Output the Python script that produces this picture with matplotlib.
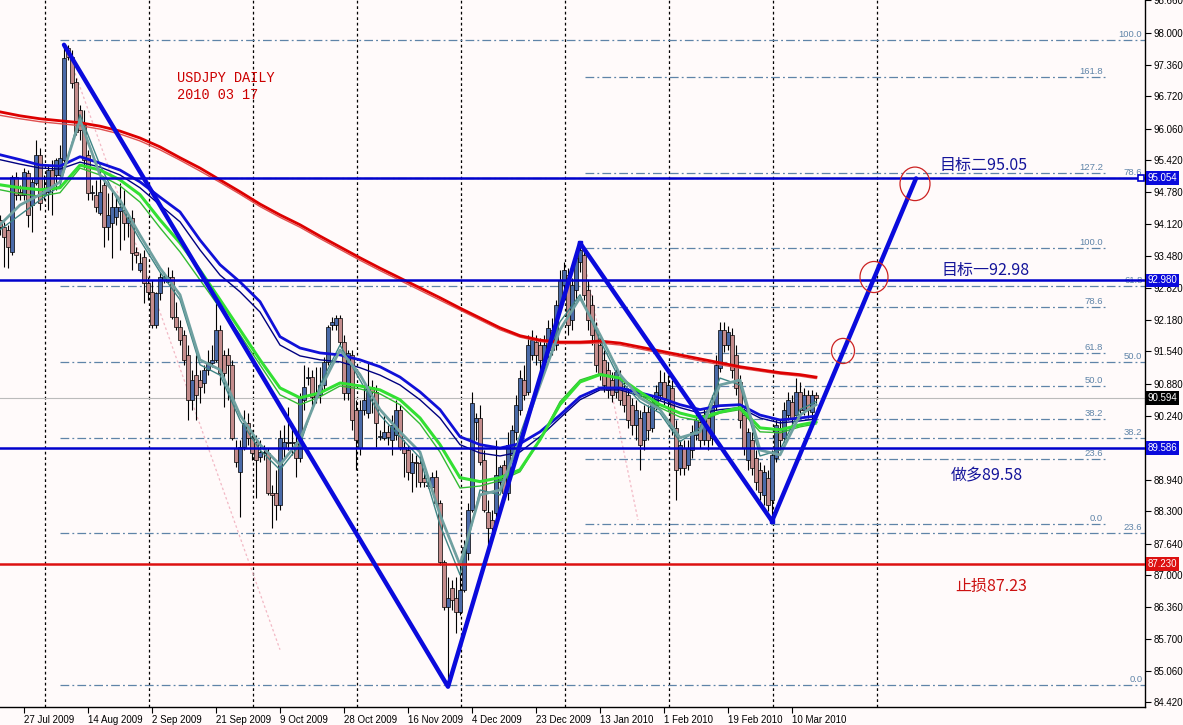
import numpy as np
import matplotlib
matplotlib.use("Agg")
import matplotlib.pyplot as plt
from matplotlib.patches import Ellipse

# ---------------- data ----------------
first_bar = -6  # index of first visible daily bar (bar 0 = 27 Jul 2009)

opens = [94.21, 94.07, 94.01, 93.56, 95.08, 94.78, 94.72, 95.16, 94.51, 94.96, 95.53, 94.72, 94.78, 95.22, 95.12, 95.12,
         95.43, 97.70, 97.51, 97.01, 96.44, 96.14, 95.53, 94.76, 94.72, 94.35, 94.92, 94.07, 94.15, 94.27, 94.39, 94.41, 94.15, 94.25, 93.56, 93.19,
         93.46, 92.93, 92.75, 92.08, 92.73, 92.99, 92.95, 93.05, 92.24, 92.04, 91.88, 91.47, 90.56, 91.07, 90.96, 90.90, 91.17, 91.31, 91.37, 91.98,
         91.47, 91.47, 91.27, 89.58, 89.10, 89.60, 90.09, 89.79, 89.71, 89.40, 89.48, 89.48, 88.67, 88.67, 88.43, 89.58, 89.69, 89.69, 89.71, 89.38,
         90.56, 91.00, 91.02, 90.66, 90.66, 90.86, 91.33, 92.08, 92.08, 92.22, 91.73, 90.70, 91.47, 90.36, 89.58, 90.36, 90.29, 90.82, 90.72, 89.81,
         89.79, 89.91, 89.75, 89.85, 90.36, 89.60, 89.54, 89.08, 89.30, 89.28, 88.98, 88.81, 88.79, 89.00, 88.47, 87.27, 86.36, 86.75, 86.54, 86.26,
         86.70, 87.46, 88.33, 90.11, 90.19, 89.34, 88.29, 88.12, 88.27, 88.90, 89.24, 88.67, 89.44, 89.91, 90.36, 90.96, 90.72, 91.47, 91.73, 91.67,
         91.33, 91.57, 91.98, 91.67, 92.49, 92.89, 93.09, 92.18, 92.79, 93.36, 93.50, 92.79, 92.49, 91.98, 91.67, 91.37, 91.17, 90.96, 90.72, 91.00,
         90.80, 90.66, 90.46, 90.05, 90.19, 89.75, 90.31, 89.99, 90.46, 90.66, 90.92, 90.56, 90.80, 89.99, 89.18, 89.58, 89.24, 89.54, 89.85, 90.11,
         89.75, 90.19, 89.79, 90.46, 91.21, 91.98, 91.67, 91.88, 91.47, 90.92, 90.25, 89.34, 89.75, 89.38, 89.14, 88.63, 88.98, 88.53, 89.38, 89.99,
         89.79, 90.25, 90.52, 90.25, 90.72, 90.36, 90.66, 90.31, 90.66]
highs = [94.31, 94.17, 94.11, 95.12, 95.18, 94.92, 95.26, 95.22, 95.06, 95.83, 95.67, 95.12, 95.32, 95.43, 95.47, 95.73,
         97.76, 97.76, 97.66, 97.09, 96.54, 96.44, 95.63, 94.92, 95.02, 95.22, 95.02, 94.76, 94.82, 94.65, 94.96, 94.82, 94.31, 94.41, 93.66, 93.54,
         93.60, 93.05, 92.99, 92.75, 93.15, 93.15, 93.26, 93.19, 92.55, 92.18, 91.98, 91.67, 91.17, 91.47, 91.17, 91.27, 91.57, 91.67, 92.52, 92.08,
         91.57, 91.61, 91.37, 89.75, 89.75, 90.36, 90.29, 89.95, 89.85, 89.75, 89.65, 89.58, 88.83, 89.14, 89.95, 90.05, 90.42, 90.09, 89.95, 90.70,
         91.27, 91.23, 91.17, 91.23, 91.23, 91.42, 92.08, 92.24, 92.28, 92.28, 91.88, 91.57, 91.57, 90.56, 90.56, 90.86, 91.31, 90.96, 90.86, 89.95,
         90.25, 90.05, 90.25, 90.56, 90.46, 89.75, 89.65, 89.48, 89.44, 89.44, 89.08, 88.92, 89.10, 89.14, 88.53, 87.31, 86.97, 86.91, 86.97, 87.21,
         87.72, 88.47, 90.72, 90.29, 90.46, 89.54, 88.53, 88.33, 89.75, 89.24, 89.34, 89.91, 90.05, 90.66, 91.17, 91.27, 91.88, 91.98, 91.88, 91.81,
         91.88, 92.18, 92.22, 92.59, 93.19, 93.36, 93.23, 93.03, 93.56, 93.74, 93.64, 92.99, 92.69, 92.14, 91.81, 91.57, 91.33, 91.13, 91.27, 91.17,
         90.96, 90.80, 90.60, 90.56, 90.36, 90.46, 90.46, 90.66, 90.86, 91.17, 91.13, 91.07, 90.96, 90.15, 89.75, 89.75, 89.75, 90.05, 90.36, 90.25,
         90.40, 90.36, 90.66, 91.47, 92.14, 92.14, 92.06, 92.02, 91.67, 91.07, 90.40, 89.99, 89.91, 89.54, 89.30, 89.24, 89.14, 89.54, 90.19, 90.15,
         90.52, 90.72, 90.66, 91.00, 90.92, 90.80, 90.76, 90.76, 90.72]
lows = [93.90, 93.26, 93.23, 93.50, 94.61, 94.61, 94.61, 94.07, 93.97, 94.92, 94.41, 94.61, 94.41, 94.31, 94.82, 95.02,
        95.38, 97.45, 96.89, 95.93, 95.83, 95.26, 94.61, 94.61, 94.37, 94.31, 93.66, 93.80, 93.44, 94.11, 93.60, 93.80, 93.86, 93.19, 93.34, 93.15,
        92.52, 92.59, 92.02, 92.02, 92.59, 92.93, 92.93, 92.20, 91.98, 91.67, 91.27, 90.15, 90.36, 90.15, 90.50, 90.70, 91.07, 91.23, 91.33, 90.86,
        90.42, 90.56, 89.75, 89.20, 88.19, 89.54, 89.65, 89.34, 88.57, 89.30, 89.34, 88.63, 87.96, 88.12, 88.33, 89.34, 89.54, 89.44, 89.00, 89.30,
        90.36, 90.86, 90.36, 90.50, 90.50, 90.76, 91.27, 91.98, 91.98, 91.67, 90.56, 90.56, 89.95, 89.14, 89.44, 90.25, 90.19, 90.29, 89.60, 89.75,
        89.75, 89.65, 89.44, 89.75, 89.54, 89.00, 88.94, 88.69, 88.79, 88.79, 88.79, 88.77, 88.73, 88.43, 87.21, 86.30, 84.74, 86.30, 85.83, 86.20,
        86.66, 87.31, 88.29, 89.75, 89.24, 88.29, 87.58, 87.82, 88.12, 88.73, 88.53, 88.53, 89.34, 89.75, 90.25, 90.56, 90.66, 91.37, 91.27, 91.17,
        91.21, 91.41, 91.47, 91.57, 92.34, 92.59, 91.88, 91.98, 92.59, 93.15, 92.59, 91.98, 91.67, 91.13, 90.96, 90.72, 90.60, 90.52, 90.60, 90.46,
        90.31, 89.99, 89.85, 89.75, 89.14, 89.54, 89.75, 89.91, 90.36, 90.56, 90.46, 90.36, 89.85, 88.53, 89.04, 89.04, 89.14, 89.38, 89.75, 89.58,
        89.65, 89.54, 89.65, 90.36, 91.13, 91.53, 91.57, 91.00, 90.66, 89.99, 89.44, 89.14, 89.04, 88.73, 88.53, 88.43, 88.30, 88.10, 89.30, 89.54,
        89.71, 90.15, 90.05, 90.15, 90.19, 90.25, 90.19, 90.05, 90.46]
closes = [94.07, 93.86, 93.66, 95.08, 94.72, 94.72, 95.18, 94.31, 94.98, 95.53, 94.55, 94.78, 95.22, 94.88, 95.43, 95.47,
          97.49, 97.51, 96.99, 95.99, 96.03, 95.43, 94.76, 94.78, 94.47, 94.78, 94.07, 94.31, 94.47, 94.47, 94.47, 94.15, 94.25, 93.54, 93.50, 93.34,
          92.93, 92.75, 92.08, 92.73, 93.05, 93.05, 93.05, 92.24, 92.04, 91.77, 91.37, 90.56, 90.96, 90.66, 90.82, 91.17, 91.33, 91.37, 91.98, 91.11,
          91.11, 91.27, 89.79, 89.30, 89.60, 90.09, 89.79, 89.48, 89.34, 89.50, 89.50, 88.67, 88.63, 88.43, 89.79, 89.71, 89.71, 89.71, 89.38, 90.62,
          90.82, 91.02, 90.62, 90.62, 90.86, 91.33, 92.04, 92.14, 92.22, 91.73, 90.70, 91.51, 90.15, 89.75, 90.36, 90.56, 90.82, 90.72, 90.09, 89.83,
          89.91, 89.81, 90.05, 90.36, 89.60, 89.48, 89.10, 89.30, 89.28, 88.90, 88.90, 88.83, 89.00, 88.47, 87.27, 86.36, 86.54, 86.50, 86.26, 86.70,
          87.58, 88.33, 90.50, 90.19, 89.30, 88.33, 87.96, 87.96, 89.04, 89.20, 88.67, 89.65, 89.95, 90.46, 91.00, 90.66, 91.67, 91.77, 91.47, 91.37,
          91.67, 92.02, 91.57, 92.49, 92.99, 93.19, 92.08, 92.89, 93.44, 93.60, 92.69, 92.18, 91.88, 91.27, 91.07, 90.86, 90.76, 90.66, 91.13, 90.56,
          90.46, 90.15, 90.05, 90.36, 89.65, 90.31, 89.95, 90.52, 90.72, 90.92, 90.60, 90.86, 89.99, 89.14, 89.65, 89.18, 89.58, 89.91, 90.15, 89.75,
          90.25, 89.75, 90.46, 91.27, 91.98, 91.67, 91.94, 91.17, 90.80, 90.15, 89.58, 89.91, 89.18, 88.90, 88.69, 89.10, 88.43, 89.44, 90.05, 89.75,
          90.36, 90.56, 90.19, 90.72, 90.36, 90.66, 90.36, 90.66, 90.59]

# moving averages read at sample bars
ma_bars = [-6, -1, 4, 9, 14, 19, 24, 29, 34, 39, 44, 49, 54, 59, 64, 69, 74, 79, 84, 89, 94,
           99, 104, 109, 114, 119, 124, 129, 134, 139, 144, 149, 154, 159, 164, 169, 174, 179, 184, 189, 194, 198]
ma_red = [96.40, 96.32, 96.26, 96.22, 96.18, 96.11, 96.01, 95.87, 95.69, 95.47, 95.26, 95.02, 94.78, 94.53, 94.31, 94.11,
          93.88, 93.66, 93.44, 93.23, 93.03, 92.83, 92.63, 92.42, 92.22, 92.02, 91.86, 91.77, 91.73, 91.73, 91.75, 91.71,
          91.63, 91.55, 91.47, 91.39, 91.31, 91.23, 91.17, 91.11, 91.07, 91.02]
ma_red_thin = [96.33, 96.26, 96.20, 96.16, 96.12, 96.05, 95.95, 95.81, 95.63, 95.42, 95.20, 94.97, 94.73, 94.48, 94.26, 94.06,
               93.83, 93.61, 93.39, 93.18, 92.98, 92.78, 92.58, 92.38, 92.18, 91.98, 91.83, 91.74, 91.70, 91.70, 91.71, 91.67,
               91.59, 91.51, 91.43, 91.35, 91.27, 91.20, 91.14, 91.08, 91.04, 90.99]
ma_blue = [95.53, 95.43, 95.32, 95.30, 95.49, 95.36, 95.22, 94.98, 94.67, 94.37, 93.80, 93.30, 92.95, 92.55, 91.84, 91.61,
           91.51, 91.47, 91.37, 91.23, 91.02, 90.72, 90.36, 89.81, 89.65, 89.58, 89.67, 89.91, 90.25, 90.62, 90.80, 90.80,
           90.70, 90.60, 90.46, 90.36, 90.44, 90.46, 90.25, 90.15, 90.19, 90.23]
ma_blue_thin = [95.43, 95.34, 95.26, 95.24, 95.38, 95.28, 95.12, 94.86, 94.51, 94.17, 93.60, 93.09, 92.75, 92.34, 91.67, 91.45,
                91.37, 91.33, 91.21, 91.06, 90.86, 90.56, 90.19, 89.65, 89.48, 89.42, 89.50, 89.81, 90.19, 90.56, 90.76, 90.76,
                90.64, 90.54, 90.40, 90.29, 90.36, 90.40, 90.19, 90.09, 90.13, 90.17]
ma_green = [94.92, 94.86, 94.82, 94.86, 95.32, 95.22, 95.02, 94.72, 94.21, 93.74, 93.19, 92.59, 91.98, 91.37, 90.80, 90.60,
            90.70, 90.90, 90.84, 90.76, 90.56, 90.19, 89.65, 88.98, 88.90, 88.98, 89.14, 89.75, 90.46, 90.92, 91.07, 91.00,
            90.72, 90.46, 90.29, 90.19, 90.31, 90.40, 89.99, 89.95, 90.05, 90.11]
ma_green_thin = [94.82, 94.74, 94.69, 94.76, 95.26, 95.12, 94.90, 94.57, 94.05, 93.56, 92.99, 92.42, 91.88, 91.27, 90.66, 90.46,
                 90.62, 90.84, 90.78, 90.68, 90.46, 90.07, 89.50, 88.77, 88.81, 88.92, 89.10, 89.75, 90.52, 90.96, 91.09, 91.00,
                 90.66, 90.40, 90.21, 90.13, 90.29, 90.36, 89.91, 89.89, 90.01, 90.07]
ma_gray = [94.11, 94.51, 94.72, 94.98, 96.24, 95.12, 94.61, 93.90, 93.23, 92.69, 91.37, 91.17, 90.25, 89.65, 89.24, 89.75,
           90.76, 91.57, 91.07, 90.36, 89.91, 89.50, 88.23, 87.21, 88.63, 88.73, 89.75, 90.86, 91.98, 92.63, 91.88, 91.07,
           90.60, 90.36, 89.79, 89.91, 90.86, 90.96, 89.54, 89.44, 90.25, 90.46]
ma_gray_thin = [94.01, 94.31, 94.61, 94.90, 96.34, 95.32, 94.51, 93.80, 93.15, 92.59, 91.27, 91.06, 90.15, 89.54, 89.14, 89.65,
                90.86, 91.67, 90.96, 90.25, 89.81, 89.38, 88.02, 87.01, 88.73, 88.63, 89.85, 91.00, 92.14, 92.69, 91.77, 90.96,
                90.52, 90.29, 89.71, 89.99, 91.00, 90.86, 89.42, 89.54, 90.36, 90.52]

# zigzag wave (bar, price)
zz_bars = [10, 106, 139, 187, 223]
zz_prices = [97.76, 84.74, 93.74, 88.10, 95.05]

# horizontal levels
level_target2 = 95.054
level_target1 = 92.980
level_entry = 89.586
level_stop = 87.230
level_bid = 90.594

# Fibonacci sets
fib_pct = [0.0, 23.6, 38.2, 50.0, 61.8, 78.6, 100.0]
fibA_low, fibA_high = 84.78, 97.86
fibB_pct = [0.0, 23.6, 38.2, 50.0, 61.8, 78.6, 100.0, 127.2, 161.8]
fibB_low, fibB_high = 88.04, 93.64

date_tick_bars = [0, 16, 32, 48, 64, 80, 96, 112, 128, 144, 160, 176, 192]
date_labels = ['27 Jul 2009', '14 Aug 2009', '2 Sep 2009', '21 Sep 2009', '9 Oct 2009', '28 Oct 2009',
               '16 Nov 2009', '4 Dec 2009', '23 Dec 2009', '13 Jan 2010', '1 Feb 2010', '19 Feb 2010', '10 Mar 2010']
price_ticks = [98.660, 98.000, 97.360, 96.720, 96.060, 95.420, 94.780, 94.120, 93.480, 92.820, 92.180, 91.540,
               90.880, 90.240, 88.940, 88.300, 87.640, 87.000, 86.360, 85.700, 85.060, 84.420]
grid_bars = [5.25, 31.25, 57.25, 83.25, 109.25, 135.25, 161.25, 187.25, 213.25]

# ---------------- figure ----------------
BG = '#fffafa'
fig = plt.figure(figsize=(11.83, 7.25), dpi=100)
fig.patch.set_facecolor(BG)
ax = fig.add_axes([0, 18 / 725, 1145 / 1183, 707 / 725])
ax.set_facecolor(BG)
ax.set_xlim(-6, 280.25)
ax.set_ylim(84.328, 98.669)

for s in ['top', 'left']:
    ax.spines[s].set_visible(False)
for s in ['bottom', 'right']:
    ax.spines[s].set_color('black')
    ax.spines[s].set_linewidth(1)

# vertical dashed grid
for gb in grid_bars:
    ax.axvline(gb, color='black', lw=0.9, ls=(0, (2.2, 2.2)), zorder=1)

# fibonacci levels
fib_col = '#5f84a8'
fib_dash = (0, (7, 2.5, 1.5, 2.5))
for p in fib_pct:
    lv = fibA_low + (fibA_high - fibA_low) * p / 100
    ax.plot([9, 280.25], [lv, lv], color=fib_col, lw=0.9, ls=fib_dash, zorder=1.5)
    ax.text(279.6, lv + 0.02, f'{p:.1f}', color=fib_col, fontsize=6.8, ha='right', va='bottom',
            family='Liberation Sans', zorder=1.6)
for p in fibB_pct:
    lv = fibB_low + (fibB_high - fibB_low) * p / 100
    ax.plot([140.25, 270.25], [lv, lv], color=fib_col, lw=0.9, ls=fib_dash, zorder=1.5)
    ax.text(269.8, lv + 0.02, f'{p:.1f}', color=fib_col, fontsize=6.8, ha='right', va='bottom',
            family='Liberation Sans', zorder=1.6)

# faint fibo trend lines
ax.plot([10.25, 64], [97.76, 85.49], color='#f2b8c4', lw=0.9, ls=(0, (2, 2)), zorder=1.4)
ax.plot([139.25, 153.5], [93.70, 88.12], color='#f2b8c4', lw=0.9, ls=(0, (2, 2)), zorder=1.4)

# candles
o = np.array(opens); h = np.array(highs); l = np.array(lows); c = np.array(closes)
xb = np.arange(first_bar, first_bar + len(o))
up = c >= o
ax.vlines(xb, l, h, color='black', lw=0.8, zorder=2.8)
body_bottom = np.minimum(o, c)
body_h = np.maximum(np.abs(c - o), 0.012)
ax.bar(xb[up], body_h[up], bottom=body_bottom[up], width=0.78, color='#4a6aa8',
       edgecolor='black', linewidth=0.5, zorder=3)
ax.bar(xb[~up], body_h[~up], bottom=body_bottom[~up], width=0.78, color='#c48c8c',
       edgecolor='black', linewidth=0.5, zorder=3)

# moving averages
ax.plot(ma_bars, ma_red_thin, color='#e05050', lw=1.0, zorder=4)
ax.plot(ma_bars, ma_red, color='#dd0000', lw=2.0, zorder=4.1)
ax.plot(ma_bars, ma_blue_thin, color='#000080', lw=1.0, zorder=4)
ax.plot(ma_bars, ma_blue, color='#1010d8', lw=2.0, zorder=4.1)
ax.plot(ma_bars, ma_green_thin, color='#33bb33', lw=1.0, zorder=4)
ax.plot(ma_bars, ma_green, color='#33e033', lw=2.2, zorder=4.1)
ax.plot(ma_bars, ma_gray_thin, color='#3f8585', lw=1.0, zorder=4)
ax.plot(ma_bars, ma_gray, color='#6fa0a0', lw=2.0, zorder=4.1)

# horizontal lines
ax.axhline(level_bid, color='#bbbbbb', lw=0.8, zorder=2)
for lv in [level_target2, level_target1, level_entry]:
    ax.axhline(lv, color='#0000cc', lw=1.8, zorder=5)
ax.axhline(level_stop, color='#dd1111', lw=1.8, zorder=5)
ax.plot([279.2], [level_target2], marker='s', ms=4.5, mfc='white', mec='#0000cc', mew=1.2, zorder=6, clip_on=False)

# zigzag
ax.plot(zz_bars, zz_prices, color='#0a0adc', lw=3.2, zorder=6, solid_capstyle='round')
ax.plot(zz_bars[2:4], zz_prices[2:4], ls='none', marker='s', ms=3.5, color='#0a0adc', zorder=6)

# red circles
for (cx, cy, w, hh) in [(222.75, 94.94, 7.5, 0.68), (212.5, 93.05, 7.0, 0.63), (204.75, 91.55, 5.75, 0.51)]:
    ax.add_patch(Ellipse((cx, cy), w, hh, fill=False, ec='#cc2222', lw=0.9, zorder=7))

# annotations
cjk = ['Noto Sans CJK SC', 'DejaVu Sans']
ax.text(229.0, 95.32, '目标二95.05', color='#14149a', fontsize=11.5, family=cjk, ha='left', va='center', zorder=8)
ax.text(229.5, 93.19, '目标一92.98', color='#14149a', fontsize=11.5, family=cjk, ha='left', va='center', zorder=8)
ax.text(231.75, 89.02, '做多89.58', color='#14149a', fontsize=11.5, family=cjk, ha='left', va='center', zorder=8)
ax.text(232.75, 86.78, '止损87.23', color='#cc1111', fontsize=11.5, family=cjk, ha='left', va='center', zorder=8)
ax.text(38.25, 97.09, 'USDJPY DAILY', color='#cc0000', fontsize=9.8, family='Liberation Mono', ha='left', va='center', zorder=8)
ax.text(38.25, 96.74, '2010 03 17', color='#cc0000', fontsize=9.8, family='Liberation Mono', ha='left', va='center', zorder=8)

# axes ticks
ax.set_xticks(date_tick_bars)
ax.set_xticklabels(date_labels, ha='left', fontsize=7, family='Liberation Sans')
ax.tick_params(axis='x', direction='out', length=4, width=0.8, pad=2, colors='black')
ax.yaxis.tick_right()
ax.set_yticks(price_ticks)
ax.set_yticklabels([f'{v:.3f}' for v in price_ticks], fontsize=7, family='Liberation Sans')
ax.tick_params(axis='y', direction='out', length=4, width=0.8, pad=2, colors='black')

# price tags on right axis
ytr = ax.get_yaxis_transform()
for lv, fc in [(level_target2, '#0a0adc'), (level_target1, '#0a0adc'), (level_entry, '#0a0adc'),
               (level_stop, '#dd1111'), (level_bid, '#000000')]:
    ax.text(1.0022, lv, f'{lv:.3f}', transform=ytr, color='white', fontsize=7, family='Liberation Sans',
            ha='left', va='center', zorder=10, clip_on=False,
            bbox=dict(boxstyle='square,pad=0.18', fc=fc, ec='none'))

fig.savefig('out.png', dpi=100, facecolor=BG)
